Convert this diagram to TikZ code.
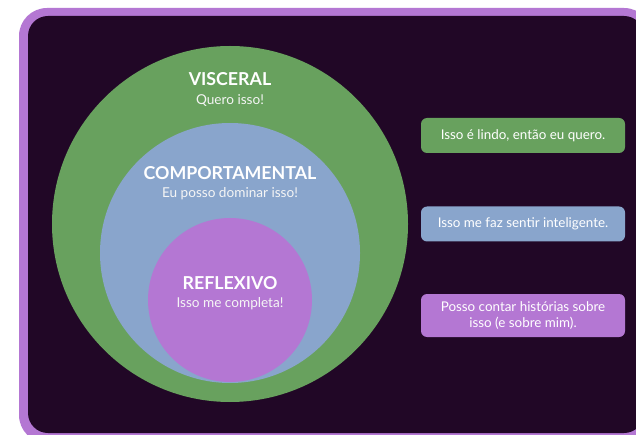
\documentclass[tikz,border=0pt]{standalone}
\usepackage{fontspec}
\setmainfont{Lato}
\definecolor{moldura}{HTML}{B477D3}
\definecolor{fundo}{HTML}{210726}
\definecolor{verde}{HTML}{68A15E}
\definecolor{azul}{HTML}{89A5CC}
\definecolor{roxo}{HTML}{B477D3}

\begin{document}
\begin{tikzpicture}[x=1pt, y=-1pt,
        nivel/.style={circle, inner sep=0pt},
        titulo/.style={text=white, font=\bfseries\fontsize{17.8}{19}\selectfont},
        frase/.style={text=white!92!gray, font=\fontsize{13.6}{15}\selectfont},
        etiqueta/.style={rounded corners=6pt, minimum width=204pt, minimum height=35pt,
            inner sep=2pt, align=center, text=white, font=\fontsize{13.4}{16}\selectfont}]

    % Fundo
    \clip (0,0) rectangle (636,435);
    \fill[white] (0,0) rectangle (636,435);
    \fill[moldura, rounded corners=28pt] (19,8) rectangle (652,443);
    \fill[fundo, rounded corners=20pt] (28,16) rectangle (644,433);

    % Circulos
    \node[nivel, fill=verde, minimum size=356pt] (visceral) at (230,224) {};
    \node[nivel, fill=azul, minimum size=260pt] (comport) at (230,253) {};
    \node[nivel, fill=roxo, minimum size=164pt] (reflexivo) at (230,300) {};

    % Textos
    \node[titulo] (t1) at (230,79) {VISCERAL};
    \node[frase] (s1) at (230,100.5) {Quero isso!};
    \node[titulo] (t2) at (230,173) {COMPORTAMENTAL};
    \node[frase] (s2) at (230,193.5) {Eu posso dominar isso!};
    \node[titulo] (t3) at (230,283) {REFLEXIVO};
    \node[frase] (s3) at (230,303.5) {Isso me completa!};

    % Etiquetas
    \node[etiqueta, fill=verde] (e1) at (523,135.5) {Isso é lindo, então eu quero.};
    \node[etiqueta, fill=azul] (e2) at (523,224) {Isso me faz sentir inteligente.};
    \node[etiqueta, fill=roxo, minimum height=43pt] (e3) at (523,315.5)
        {Posso contar histórias sobre\\isso (e sobre mim).};
\end{tikzpicture}
\end{document}
